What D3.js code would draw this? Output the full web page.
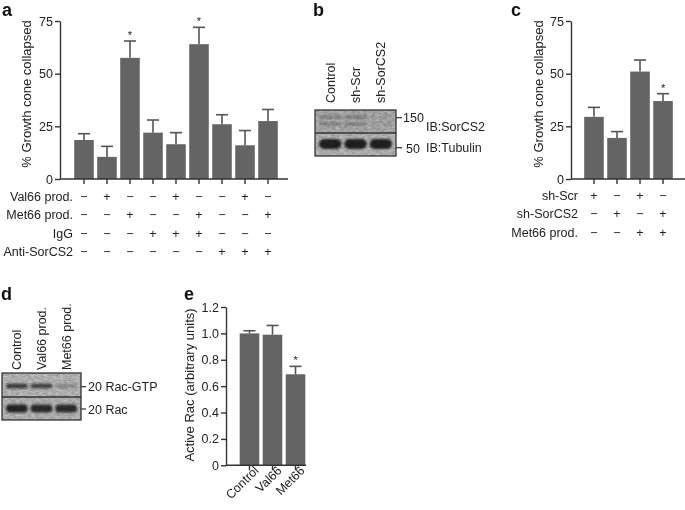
<!DOCTYPE html>
<html><head><meta charset="utf-8">
<script src="https://cdn.jsdelivr.net/npm/d3@7"></script>
<style>body{margin:0;background:#fff} svg{opacity:0.999} text{font-family:"Liberation Sans",Arial,Helvetica,sans-serif}</style>
</head><body><svg id="c" width="685" height="510"></svg>
<script>
// ---------- data ----------
const aGroups = ["a1","a2","a3","a4","a5","a6","a7","a8","a9"];
const aValues = [18.5,10.5,57.5,22,16.5,64,26,16,27.5];
const aErrors = [3,5,8,6,5.5,8,4.5,7,5.5];
const aStars  = [0,0,1,0,0,1,0,0,0];
const aRowLabels = ["Val66 prod.","Met66 prod.","IgG","Anti-SorCS2"];
const aSigns = ["-+--+--+-","--+--+--+","---+++---","------+++"];
const growthTicks = [0,25,50,75];

const cGroups = ["c1","c2","c3","c4"];
const cValues = [29.5,19.5,51,37];
const cErrors = [4.5,3,5.5,3.5];
const cStars  = [0,0,0,1];
const cRowLabels = ["sh-Scr","sh-SorCS2","Met66 prod."];
const cSigns = ["+-+-","-+-+","--++"];

const eCategories = ["Control","Val66","Met66"];
const eValues = [1.0,0.99,0.69];
const eErrors = [0.02,0.07,0.06];
const eStars  = [0,0,1];
const eTicks = [0,0.2,0.4,0.6,0.8,1.0,1.2];

const bLanes = ["Control","sh-Scr","sh-SorCS2"];
const bSorCS2 = [0.30,0.32,0.08];
const bTubulin = [0.95,0.95,0.95];
const bMarkers = ["150","50"];
const bBlotLabels = ["IB:SorCS2","IB:Tubulin"];

const dLanes = ["Control","Val66 prod.","Met66 prod."];
const dRacGTP = [0.72,0.68,0.2];
const dRac = [0.92,0.88,0.88];
const dMarkers = ["20","20"];
const dBlotLabels = ["Rac-GTP","Rac"];

// ---------- drawing ----------
const svg = d3.select("#c");
const INK = "#222", AX = "#333", BAR = "#646464", FS = "12.5px";

const defs = svg.append("defs");
defs.append("filter").attr("id","blur").attr("x","-30%").attr("y","-80%").attr("width","160%").attr("height","260%")
  .append("feGaussianBlur").attr("stdDeviation",1.3);
const tex = defs.append("filter").attr("id","tex");
tex.append("feTurbulence").attr("type","fractalNoise").attr("baseFrequency","0.25 0.6").attr("numOctaves",2).attr("seed",3);
tex.append("feColorMatrix").attr("type","matrix").attr("values","0 0 0 0 0  0 0 0 0 0  0 0 0 0 0  0 0 0 0.35 -0.05");
tex.append("feComposite").attr("in2","SourceGraphic").attr("operator","in");

function styleAxis(sel){
  sel.attr("font-size",null).attr("font-family",null);
  sel.selectAll("line").attr("stroke",AX).attr("stroke-width",1.4);
  sel.selectAll("path").attr("stroke",AX).attr("stroke-width",1.4);
  sel.selectAll("text").attr("fill",INK).style("font-size",FS);
}

function panelLetter(t,x,y){
  svg.append("text").attr("x",x).attr("y",y).text(t).attr("fill","#111")
    .style("font-weight","bold").style("font-size","18px");
}

function barPanel(o){
  const g = svg.append("g");
  const x = d3.scaleBand().domain(o.groups).range(o.xr).paddingInner(0.15).paddingOuter(0);
  const y = d3.scaleLinear().domain(o.yd).range(o.yr);
  const ya = g.append("g").attr("transform",`translate(${o.ax},0)`)
    .call(d3.axisLeft(y).tickValues(o.yTicks).tickFormat(o.fmt).tickSize(5).tickPadding(2).tickSizeOuter(0));
  styleAxis(ya);
  g.selectAll("rect.bar").data(o.groups).join("rect").attr("class","bar")
    .attr("x",d=>x(d)).attr("width",x.bandwidth())
    .attr("y",(d,i)=>y(o.values[i])).attr("height",(d,i)=>y(0)-y(o.values[i]))
    .attr("fill",BAR);
  const eb = g.selectAll("g.err").data(o.groups).join("g").attr("class","err");
  eb.append("line").attr("x1",d=>x(d)+x.bandwidth()/2).attr("x2",d=>x(d)+x.bandwidth()/2)
    .attr("y1",(d,i)=>y(o.values[i])).attr("y2",(d,i)=>y(o.values[i]+o.errors[i]))
    .attr("stroke","#555").attr("stroke-width",1.6);
  eb.append("line").attr("x1",d=>x(d)+x.bandwidth()/2-6).attr("x2",d=>x(d)+x.bandwidth()/2+6)
    .attr("y1",(d,i)=>y(o.values[i]+o.errors[i])).attr("y2",(d,i)=>y(o.values[i]+o.errors[i]))
    .attr("stroke","#555").attr("stroke-width",1.6);
  g.selectAll("text.star").data(o.groups.filter((d,i)=>o.stars[i])).join("text").attr("class","star")
    .attr("x",d=>x(d)+x.bandwidth()/2).attr("text-anchor","middle")
    .attr("y",d=>{const i=o.groups.indexOf(d); return y(o.values[i]+o.errors[i])-2;})
    .attr("fill",INK).style("font-size","11px").text("*");
  g.append("line").attr("x1",o.ax).attr("x2",o.axEnd).attr("y1",y(0)).attr("y2",y(0))
    .attr("stroke",AX).attr("stroke-width",1.6);
  const xa = g.append("g").attr("transform",`translate(0,${y(0)})`)
    .call(d3.axisBottom(x).tickSize(5).tickSizeOuter(0).tickFormat(o.xfmt || (()=>"")));
  xa.select(".domain").remove();
  styleAxis(xa);
  if (o.rotLabels){
    xa.selectAll("text").attr("text-anchor","end").attr("dy",null)
      .attr("transform","translate(10,6) rotate(-45)").attr("y",0).attr("x",0);
  }
  g.append("text").attr("transform",`translate(${o.ylx},${o.yly}) rotate(-90)`)
    .attr("text-anchor","middle").attr("fill",INK).style("font-size","13px").text(o.ylabel);
  if (o.rowLabels){
    o.rowLabels.forEach((lab,r)=>{
      const ry = o.rowY[r];
      g.append("text").attr("x",o.tlx).attr("y",ry+4.5).attr("text-anchor","end")
        .attr("fill",INK).style("font-size",FS).text(lab);
      g.selectAll(null).data(o.groups).join("text")
        .attr("x",d=>x(d)+x.bandwidth()/2).attr("y",ry+4.5).attr("text-anchor","middle")
        .attr("fill",INK).style("font-size",FS)
        .text((d,i)=>o.signs[r][i]==="+"?"+":"\u2212");
    });
  }
  return {x,y};
}

// Panel a
panelLetter("a",2,16);
barPanel({groups:aGroups,values:aValues,errors:aErrors,stars:aStars,
  xr:[74.2,277.8], yd:[0,75], yr:[179,21], ax:60, axEnd:288, yTicks:growthTicks, fmt:d3.format("d"),
  ylabel:"% Growth cone collapsed", ylx:31, yly:94,
  rowLabels:aRowLabels, signs:aSigns, rowY:[196,214.5,233,251.5], tlx:73});

// Panel c
panelLetter("c",511,16);
barPanel({groups:cGroups,values:cValues,errors:cErrors,stars:cStars,
  xr:[584.2,672.8], yd:[0,75], yr:[179,21], ax:571, axEnd:685, yTicks:growthTicks, fmt:d3.format("d"),
  ylabel:"% Growth cone collapsed", ylx:543, yly:94,
  rowLabels:cRowLabels, signs:cSigns, rowY:[195,213.5,232], tlx:578});

// Panel e
panelLetter("e",184,300);
barPanel({groups:eCategories,values:eValues,errors:eErrors,stars:eStars,
  xr:[239.7,305.3], yd:[0,1.2], yr:[465.3,307], ax:226, axEnd:306, yTicks:eTicks,
  fmt:d=>d===0?"0":d3.format(".1f")(d), xfmt:d=>d, rotLabels:true,
  ylabel:"Active Rac (arbitrary units)", ylx:194, yly:385});

// ---------- blots ----------
function blot(o){
  const g = svg.append("g");
  const x = d3.scaleBand().domain(o.lanes).range([o.x0+2,o.x1-2]).padding(0.04);
  o.sections.forEach(s=>{
    g.append("rect").attr("x",o.x0).attr("y",s.y0).attr("width",o.x1-o.x0).attr("height",s.y1-s.y0).attr("fill",s.bg);
    g.append("rect").attr("x",o.x0).attr("y",s.y0).attr("width",o.x1-o.x0).attr("height",s.y1-s.y0)
      .attr("fill",s.bg).attr("filter","url(#tex)");
    s.bands.forEach(b=>{
      g.selectAll(null).data(o.lanes).join("rect")
        .attr("x",d=>x(d)+1).attr("width",x.bandwidth()-2)
        .attr("y",b.cy-b.h/2).attr("height",b.h).attr("rx",b.h/2)
        .attr("fill",(d,i)=>`rgba(20,20,20,${b.vals[i]})`).attr("filter","url(#blur)");
    });
  });
  g.append("rect").attr("x",o.x0).attr("y",o.sections[0].y0).attr("width",o.x1-o.x0)
    .attr("height",o.sections[o.sections.length-1].y1-o.sections[0].y0)
    .attr("fill","none").attr("stroke","#333").attr("stroke-width",1.3);
  g.append("line").attr("x1",o.x0).attr("x2",o.x1).attr("y1",o.sections[0].y1).attr("y2",o.sections[0].y1)
    .attr("stroke","#333").attr("stroke-width",1.3);
  g.selectAll(null).data(o.lanes).join("text")
    .attr("transform",d=>`translate(${x(d)+x.bandwidth()/2+4.5},${o.labelY}) rotate(-90)`)
    .attr("fill",INK).style("font-size",FS).text(d=>d);
  return x;
}

// Panel b
panelLetter("b",313,16);
blot({x0:315,x1:396,lanes:bLanes,labelY:103,
  sections:[
    {y0:110,y1:133,bg:"#b9b9b9",bands:[{cy:117,h:3,vals:bSorCS2},{cy:124,h:3,vals:bSorCS2.map(v=>v*0.8)}]},
    {y0:133,y1:156,bg:"#c4c4c4",bands:[{cy:144,h:10,vals:bTubulin}]}
  ]});
[[117.7,bMarkers[0],403,122,bBlotLabels[0],426,131],[147.7,bMarkers[1],406,152.5,bBlotLabels[1],426,151.5]]
  .forEach(([ty,m,mx,my,l,lx,ly])=>{
    svg.append("line").attr("x1",396).attr("x2",402).attr("y1",ty).attr("y2",ty).attr("stroke","#333").attr("stroke-width",1.2);
    svg.append("text").attr("x",mx).attr("y",my).attr("fill",INK).style("font-size",FS).text(m);
    svg.append("text").attr("x",lx).attr("y",ly).attr("fill",INK).style("font-size",FS).text(l);
  });

// Panel d
panelLetter("d",1,300);
blot({x0:2,x1:81,lanes:dLanes,labelY:370,
  sections:[
    {y0:373,y1:397,bg:"#c6c6c6",bands:[{cy:386,h:5,vals:dRacGTP}]},
    {y0:397,y1:420,bg:"#c3c3c3",bands:[{cy:408.5,h:8,vals:dRac}]}
  ]});
[[386.7,dMarkers[0]+" "+dBlotLabels[0],391],[409,dMarkers[1]+" "+dBlotLabels[1],413.5]].forEach(([ty,l,ly])=>{
  svg.append("line").attr("x1",81).attr("x2",86).attr("y1",ty).attr("y2",ty).attr("stroke","#333").attr("stroke-width",1.2);
  svg.append("text").attr("x",88).attr("y",ly).attr("fill",INK).style("font-size",FS).text(l);
});
</script></body></html>
